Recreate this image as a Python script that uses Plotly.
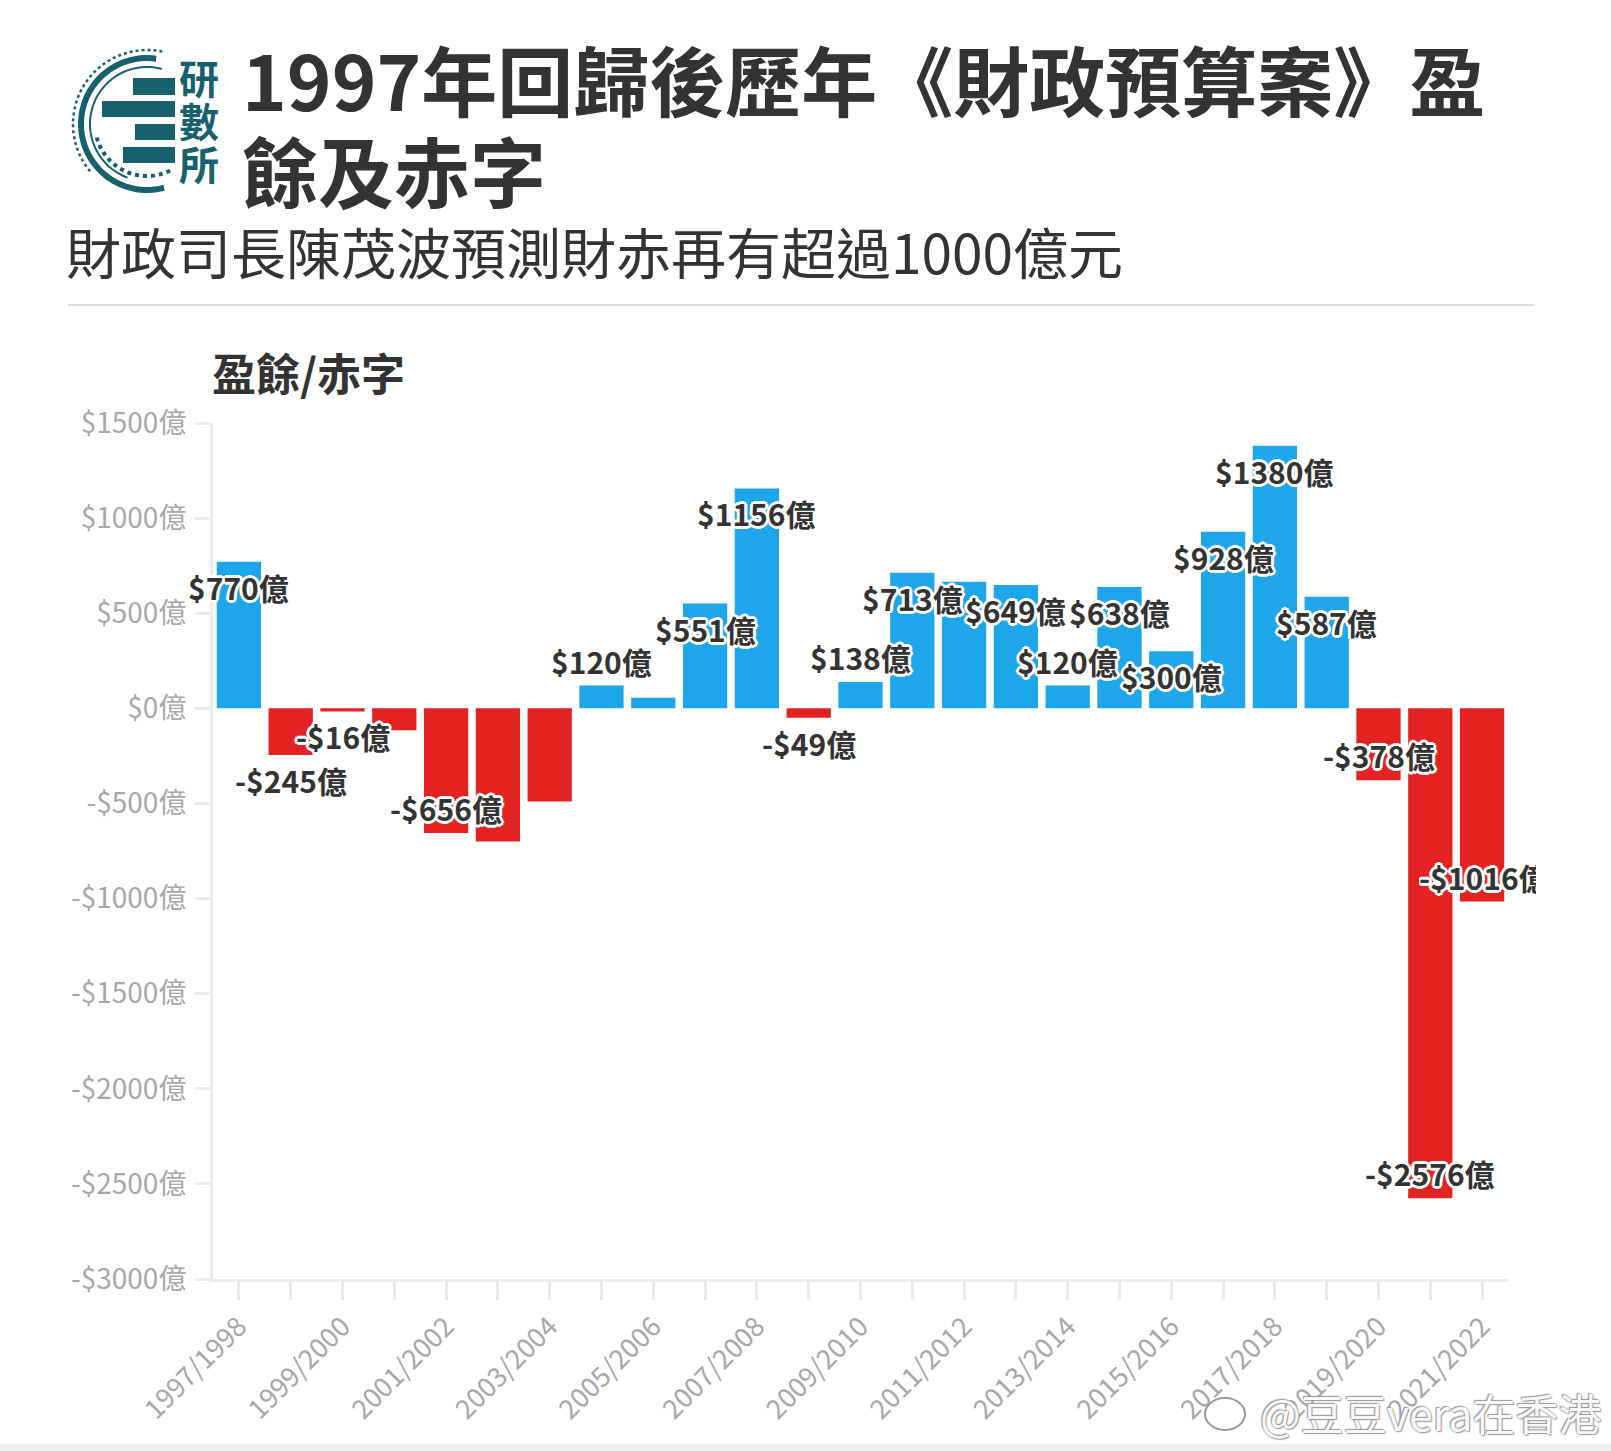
import numpy as np
import plotly.graph_objects as go

# ---------------- data ----------------
years = ["1997/1998", "1998/1999", "1999/2000", "2000/2001", "2001/2002", "2002/2003",
         "2003/2004", "2004/2005", "2005/2006", "2006/2007", "2007/2008", "2008/2009",
         "2009/2010", "2010/2011", "2011/2012", "2012/2013", "2013/2014", "2014/2015",
         "2015/2016", "2016/2017", "2017/2018", "2018/2019", "2019/2020", "2020/2021",
         "2021/2022"]
values = [770, -245, -16, -115, -656, -700, -490, 120, 56, 551, 1156, -49, 138, 713,
          665, 649, 120, 638, 300, 928, 1380, 587, -378, -2576, -1016]

# years that carry a value label
labelled_years = ["1997/1998", "1998/1999", "1999/2000", "2001/2002", "2004/2005",
                  "2006/2007", "2007/2008", "2008/2009", "2009/2010", "2010/2011",
                  "2012/2013", "2013/2014", "2014/2015", "2015/2016", "2016/2017",
                  "2017/2018", "2018/2019", "2019/2020", "2020/2021", "2021/2022"]
# labels drawn just outside the bar end (others sit just inside)
outside_label_years = ["1998/1999", "1999/2000", "2004/2005", "2008/2009", "2009/2010",
                       "2013/2014"]

y_tick_vals = [1500, 1000, 500, 0, -500, -1000, -1500, -2000, -2500, -3000]
y_tick_text = ["$1500億", "$1000億", "$500億", "$0億", "-$500億", "-$1000億",
               "-$1500億", "-$2000億", "-$2500億", "-$3000億"]

title_line1 = "1997年回歸後歷年《財政預算案》盈"
title_line2 = "餘及赤字"
subtitle = "財政司長陳茂波預測財赤再有超過1000億元"
axis_title = "盈餘/赤字"

# ---------------- styling ----------------
BLUE = "#1da6e9"
RED = "#e32222"
DARK = "#333333"
GREY = "#a8a8a8"
AXIS = "#ebebeb"
TEAL = "#17606d"
FONT = "Noto Sans CJK TC"

W_FIG, H_FIG = 1611, 1451
L, R, T, B = 213, 103, 423, 172
PW, PH = W_FIG - L - R, H_FIG - T - B


def pxx(x):
    return (x - L) / PW


def pxy(y):
    return 1 - (y - T) / PH


def fmt(v):
    return ("-$%d億" % abs(v)) if v < 0 else ("$%d億" % v)


colors = [BLUE if v >= 0 else RED for v in values]

fig = go.Figure()
fig.add_trace(go.Bar(x=years, y=values, marker=dict(color=colors, line=dict(width=0)),
                     hoverinfo="x+y"))

halo = ", ".join("white %dpx %dpx 0" % (dx, dy) for dx, dy in
                 [(2, 0), (-2, 0), (0, 2), (0, -2), (2, 2), (-2, -2), (2, -2), (-2, 2),
                  (3, 0), (-3, 0), (0, 3), (0, -3)])

annotations = []
for yr, v in zip(years, values):
    if yr not in labelled_years:
        continue
    outside = yr in outside_label_years
    sign = 1 if v >= 0 else -1
    shift = 25 * sign if outside else -25 * sign
    ann = dict(x=yr, y=v, xref="x", yref="y", text=fmt(v), showarrow=False,
               yshift=shift, xanchor="center", yanchor="middle",
               font=dict(family=FONT, size=30, color=DARK, weight="bold", shadow=halo))
    if yr == "2021/2022":
        ann.update(width=117, align="left", xshift=-5)
    annotations.append(ann)

# titles
annotations += [
    dict(x=pxx(240), y=pxy(78), xref="paper", yref="paper", text=title_line1,
         showarrow=False, xanchor="left", yanchor="middle",
         font=dict(family=FONT, size=76, color=DARK, weight="bold")),
    dict(x=pxx(240), y=pxy(169), xref="paper", yref="paper", text=title_line2,
         showarrow=False, xanchor="left", yanchor="middle",
         font=dict(family=FONT, size=76, color=DARK, weight="bold")),
    dict(x=pxx(64), y=pxy(250), xref="paper", yref="paper", text=subtitle,
         showarrow=False, xanchor="left", yanchor="middle",
         font=dict(family=FONT, size=55, color=DARK)),
    dict(x=pxx(210), y=pxy(372), xref="paper", yref="paper", text=axis_title,
         showarrow=False, xanchor="left", yanchor="middle",
         font=dict(family=FONT, size=44, color=DARK, weight="bold")),
]
# logo text
for ch, cy in zip("研數所", [77, 120, 163]):
    annotations.append(dict(x=pxx(199), y=pxy(cy), xref="paper", yref="paper", text=ch,
                            showarrow=False, xanchor="center", yanchor="middle",
                            font=dict(family=FONT, size=40, color=TEAL, weight="bold")))
# watermark
annotations.append(dict(x=pxx(1258), y=pxy(1412), xref="paper", yref="paper",
                        text="@豆豆vera在香港", showarrow=False, xanchor="left",
                        yanchor="middle",
                        font=dict(family=FONT, size=43, color="rgba(255,255,255,0.95)",
                                  shadow="0 0 2px #8a8a8a, 1px 1px 1px #9a9a9a, -1px -1px 1px #9a9a9a")))

shapes = [
    dict(type="line", xref="paper", yref="paper", x0=pxx(68), x1=pxx(1534),
         y0=pxy(305), y1=pxy(305), line=dict(color="#dddddd", width=2)),
    dict(type="rect", xref="paper", yref="paper", x0=pxx(0), x1=pxx(W_FIG),
         y0=pxy(1444), y1=pxy(H_FIG), line=dict(width=0), fillcolor="#efefef"),
]


def arc_path(cx, cy, r, a0, a1, n=60):
    ang = np.radians(np.linspace(a0, a1, n))
    xs = cx + r * np.cos(ang)
    ys = cy - r * np.sin(ang)
    pts = ["%s%.5f,%.5f" % ("M" if i == 0 else "L", pxx(x), pxy(y))
           for i, (x, y) in enumerate(zip(xs, ys))]
    return " ".join(pts)


cx, cy = 147, 124
shapes += [
    dict(type="path", xref="paper", yref="paper", path=arc_path(cx, cy, 74, 78, 222),
         line=dict(color=TEAL, width=2.5, dash="dot")),
    dict(type="path", xref="paper", yref="paper", path=arc_path(cx, cy, 66, 82, 285),
         line=dict(color=TEAL, width=6)),
    dict(type="path", xref="paper", yref="paper", path=arc_path(cx, cy, 57, 75, 250),
         line=dict(color=TEAL, width=2)),
    dict(type="path", xref="paper", yref="paper", path=arc_path(cx, cy, 52, 195, 300),
         line=dict(color=TEAL, width=4, dash="dot")),
]
for x0, x1, y0, y1 in [(133, 175, 78, 95), (102, 175, 101, 117), (135, 175, 124, 140),
                       (123, 175, 147, 163)]:
    shapes.append(dict(type="rect", xref="paper", yref="paper", x0=pxx(x0), x1=pxx(x1),
                       y0=pxy(y0), y1=pxy(y1), line=dict(width=0), fillcolor=TEAL))
# weibo icon approximation
shapes.append(dict(type="circle", xref="paper", yref="paper", x0=pxx(1205), x1=pxx(1245),
                   y0=pxy(1398), y1=pxy(1430), line=dict(color="#9a9a9a", width=2),
                   fillcolor="rgba(255,255,255,0.9)"))

fig.update_layout(
    width=W_FIG, height=H_FIG,
    margin=dict(l=L, r=R, t=T, b=B, pad=0),
    paper_bgcolor="white", plot_bgcolor="white",
    showlegend=False, bargap=0.145,
    font=dict(family=FONT),
    annotations=annotations, shapes=shapes,
    xaxis=dict(type="category", range=[-0.5, len(years) - 0.5],
               tickvals=years,
               ticktext=[y if i % 2 == 0 else "" for i, y in enumerate(years)],
               tickangle=-45, ticks="outside", ticklen=18, tickwidth=3, tickcolor=AXIS,
               showline=True, linecolor=AXIS, linewidth=3, showgrid=False,
               zeroline=False, tickfont=dict(family=FONT, size=27, color=GREY)),
    yaxis=dict(range=[-3000, 1500], tickvals=y_tick_vals, ticktext=y_tick_text,
               ticks="outside", ticklen=15, tickwidth=3, tickcolor=AXIS,
               showline=True, linecolor=AXIS, linewidth=3, showgrid=False,
               zeroline=False, ticklabelstandoff=3,
               tickfont=dict(family=FONT, size=28, color=GREY)),
)

fig.write_html("out.html", config={"displayModeBar": False},
               post_script="document.body.style.margin='0';document.body.style.overflow='hidden';")
